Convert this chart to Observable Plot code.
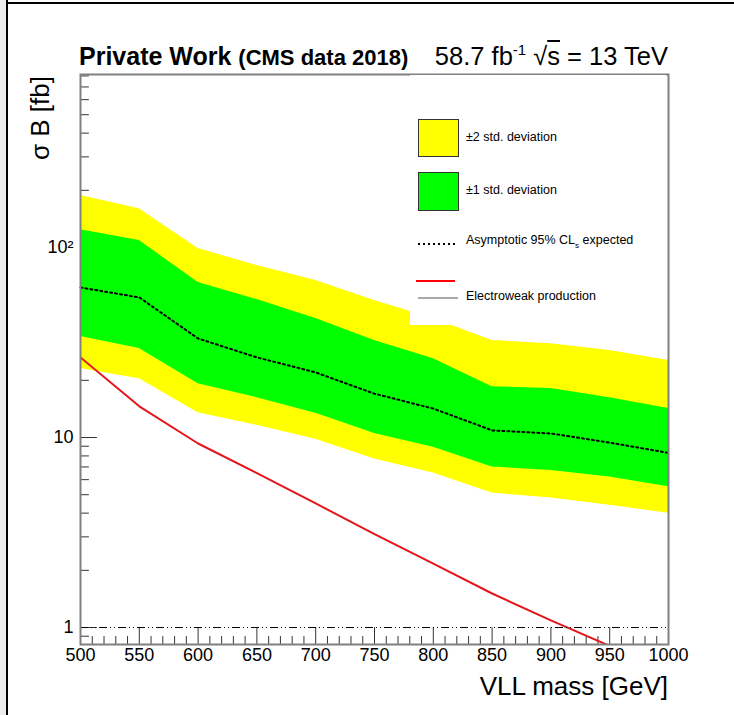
<!DOCTYPE html>
<html><head><meta charset="utf-8">
<script src="https://cdn.jsdelivr.net/npm/d3@7"></script>
<script src="https://cdn.jsdelivr.net/npm/@observablehq/plot@0.6"></script>
<style>
html,body{margin:0;padding:0;background:#fff;}
#wrap{position:relative;width:734px;height:715px;overflow:hidden;font-family:"Liberation Sans",Arial,sans-serif;background:#fff;color:#000}
#wrap svg.plot{position:absolute;left:0;top:0}
.abs{position:absolute;white-space:nowrap;line-height:1}
</style></head><body><div id="wrap"></div>
<script>
// ---- data ----
const massGeV   = [500, 550, 600, 650, 700, 750, 800, 850, 900, 950, 1000];
const expected  = [61.6, 54.6, 33.2, 26.4, 22.0, 17.0, 14.2, 10.9, 10.5, 9.4, 8.3];
const plus1Sig  = [124, 109, 65.4, 53.2, 42.3, 32.4, 26.0, 18.5, 18.1, 16.2, 14.2];
const minus1Sig = [34.0, 29.4, 19.2, 16.2, 13.4, 10.5, 8.9, 7.0, 6.7, 6.2, 5.5];
const plus2Sig  = [188, 160, 98.8, 80.4, 67.0, 52.6, 42.3, 32.4, 31.2, 28.7, 25.4];
const minus2Sig = [23.1, 20.4, 13.5, 11.6, 9.8, 7.7, 6.5, 5.1, 4.8, 4.4, 4.0];
const ewMass    = [500, 550, 600, 650, 700, 750, 800, 850, 900, 950];
const ewXsec    = [26.4, 14.6, 9.3, 6.5, 4.5, 3.1, 2.17, 1.51, 1.09, 0.80];
const xMajorTicks = [500, 550, 600, 650, 700, 750, 800, 850, 900, 950, 1000];
const yMajorTicks = [1, 10, 100];
const yTickLabels = ["1", "10", "10²"];
const yMinorTicks = [0.9, 2, 3, 4, 5, 6, 7, 8, 9, 20, 30, 40, 50, 60, 70, 80, 90, 200, 300, 400, 500, 600, 700, 800];
const xMinorTicks = d3.range(500, 1001, 10).filter(v => v % 50 !== 0);

const bands = massGeV.map((m, i) => ({mass: m, exp: expected[i], p1: plus1Sig[i], m1: minus1Sig[i], p2: plus2Sig[i], m2: minus2Sig[i]}));
const ew = ewMass.map((m, i) => ({mass: m, xs: ewXsec[i]}));

const tickShape = {draw(context, l) { context.moveTo(0, 0); context.lineTo(0, -l); }};
const tickColor = "#333";

const plot = Plot.plot({
  width: 734, height: 715,
  marginLeft: 80, marginRight: 66, marginTop: 74, marginBottom: 71,
  x: {domain: [500, 1000]},
  y: {type: "log", domain: [0.814, 814]},
  style: {fontFamily: "'Liberation Sans', Arial, sans-serif", background: "transparent", color: "black"},
  marks: [
    Plot.vector(yMinorTicks, {y: d => d, frameAnchor: "left", length: 8, rotate: 90, anchor: "start", shape: tickShape, stroke: tickColor, strokeWidth: 1}),
    Plot.vector(yMajorTicks, {y: d => d, frameAnchor: "left", length: 16, rotate: 90, anchor: "start", shape: tickShape, stroke: tickColor, strokeWidth: 1}),
    Plot.vector(xMinorTicks, {x: d => d, frameAnchor: "bottom", length: 8, rotate: 0, anchor: "start", shape: tickShape, stroke: tickColor, strokeWidth: 1}),
    Plot.vector(xMajorTicks, {x: d => d, frameAnchor: "bottom", length: 17, rotate: 0, anchor: "start", shape: tickShape, stroke: tickColor, strokeWidth: 1}),
    Plot.axisX({ticks: xMajorTicks, tickSize: 0, tickPadding: 4, fontSize: 18, tickFormat: d => String(d), label: null}),
    Plot.axisY({ticks: yMajorTicks, tickSize: 0, tickPadding: 7, fontSize: 18, tickFormat: d => yTickLabels[yMajorTicks.indexOf(d)], label: null}),
    Plot.areaY(bands, {x: "mass", y1: "m2", y2: "p2", fill: "#ffff00"}),
    Plot.areaY(bands, {x: "mass", y1: "m1", y2: "p1", fill: "#00ff00"}),
    Plot.line(bands, {x: "mass", y: "exp", stroke: "black", strokeWidth: 2, strokeDasharray: "2,3"}),
    Plot.line(ew, {x: "mass", y: "xs", stroke: "#e3161b", strokeWidth: 2, clip: true}),
    Plot.ruleY([1], {stroke: "black", strokeWidth: 1, strokeDasharray: "8,3,1,3,1,3"}),
    Plot.frame({stroke: "#808080", strokeWidth: 2})
  ]
});
const wrap = document.getElementById("wrap");
wrap.appendChild(plot);

const overlay = `
<svg class="abs" style="left:410px;top:75px" width="256" height="250" font-family="'Liberation Sans', Arial, sans-serif" font-size="12.5">
  <rect x="0" y="0" width="256" height="250" fill="#fff"/>
  <rect x="8.5" y="44.5" width="40" height="37" fill="#ffff00" stroke="#333"/>
  <text x="56" y="63" dominant-baseline="middle">±2 std. deviation</text>
  <rect x="8.5" y="97.5" width="40" height="38" fill="#00ff00" stroke="#333"/>
  <text x="56" y="116" dominant-baseline="middle">±1 std. deviation</text>
  <line x1="8" x2="45" y1="169" y2="169" stroke="#000" stroke-width="2" stroke-dasharray="2,3"/>
  <text x="56" y="166" dominant-baseline="middle">Asymptotic 95% CL<tspan dy="5" font-size="8">s</tspan><tspan dy="-5"> expected</tspan></text>
  <line x1="6" x2="45" y1="206" y2="206" stroke="#ff0000" stroke-width="2"/>
  <line x1="8" x2="48" y1="223" y2="223" stroke="#555" stroke-width="1"/>
  <text x="56" y="222" dominant-baseline="middle">Electroweak production</text>
</svg>
<div class="abs" style="left:79px;top:44px;font-weight:bold;font-size:25px">Private Work <span style="font-size:22px">(CMS data 2018)</span></div>
<div class="abs" style="right:66px;top:44px;font-size:25.5px">58.7 fb<span style="font-size:15px;position:relative;top:-10px">-1</span> √<span style="text-decoration:overline">s</span> = 13 TeV</div>
<div class="abs" style="right:66px;top:673px;font-size:26px">VLL mass [GeV]</div>
<div class="abs" style="left:27px;top:76px;font-size:26px;transform-origin:0 0;transform:rotate(-90deg) translateX(-100%)">σ B [fb]</div>
<div class="abs" style="left:0;top:0;width:6px;height:715px;background:#ececec"></div>
<div class="abs" style="left:6px;top:0;width:2px;height:715px;background:#000"></div>
<div class="abs" style="left:6px;top:2px;width:728px;height:2px;background:#000"></div>
`;
wrap.insertAdjacentHTML("beforeend", overlay);
</script>
</body></html>
